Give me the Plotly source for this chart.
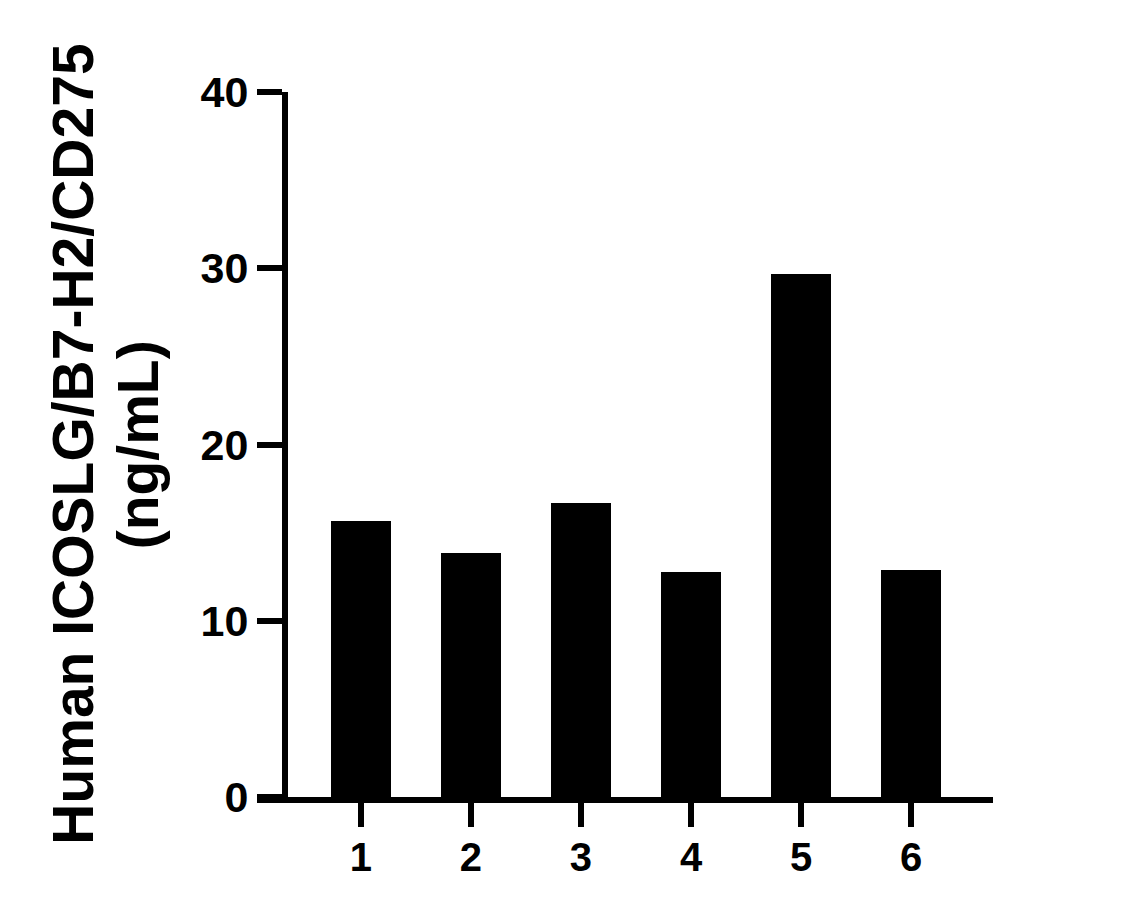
import plotly.graph_objects as go

# sample numbers on the x axis, concentration on y
samples = ["1", "2", "3", "4", "5", "6"]
conc_ng_ml = [15.67, 13.86, 16.67, 12.77, 29.66, 12.88]
y_ticks = [0, 10, 20, 30, 40]

title_line1 = "Human ICOSLG/B7-H2/CD275"
title_line2 = "(ng/mL)"

FONT = "Liberation Sans, Arial, Helvetica, sans-serif"

fig = go.Figure()
fig.add_bar(x=samples, y=conc_ng_ml, width=0.545,
            marker=dict(color="black", line=dict(width=0)))

# page body has an 8px margin, so margins are pulled in by 8
fig.update_layout(
    width=1129, height=917,
    margin=dict(l=249, r=144, t=84, b=128, autoexpand=False),
    paper_bgcolor="white", plot_bgcolor="white",
    showlegend=False,
    font=dict(family=FONT, color="black"),
    bargap=0,
)

fig.update_xaxes(
    type="category", range=[-0.945, 5.745],
    showgrid=False, zeroline=False,
    showline=True, linecolor="black", linewidth=6,
    ticks="outside", ticklen=24, tickwidth=6, tickcolor="black",
    tickfont=dict(size=40, family=FONT, weight="bold"),
    ticklabelstandoff=-4,
)

fig.update_yaxes(
    range=[0, 40], tickvals=y_ticks,
    anchor="free", position=0.038,
    showgrid=False, zeroline=False,
    showline=True, linecolor="black", linewidth=6,
    ticks="outside", ticklen=25, tickwidth=6, tickcolor="black",
    tickfont=dict(size=43, family=FONT, weight="bold"),
    ticklabelstandoff=0,
)

# two-line rotated axis title
fig.add_annotation(text=title_line1, xref="paper", yref="paper",
                   x=-0.251, y=0.5, xanchor="center", yanchor="middle",
                   textangle=-90, showarrow=False,
                   font=dict(size=57, family=FONT, weight="bold"))
fig.add_annotation(text=title_line2, xref="paper", yref="paper",
                   x=-0.162, y=0.5, xanchor="center", yanchor="middle",
                   textangle=-90, showarrow=False,
                   font=dict(size=57, family=FONT, weight="bold"))

fig.write_html("out.html")
